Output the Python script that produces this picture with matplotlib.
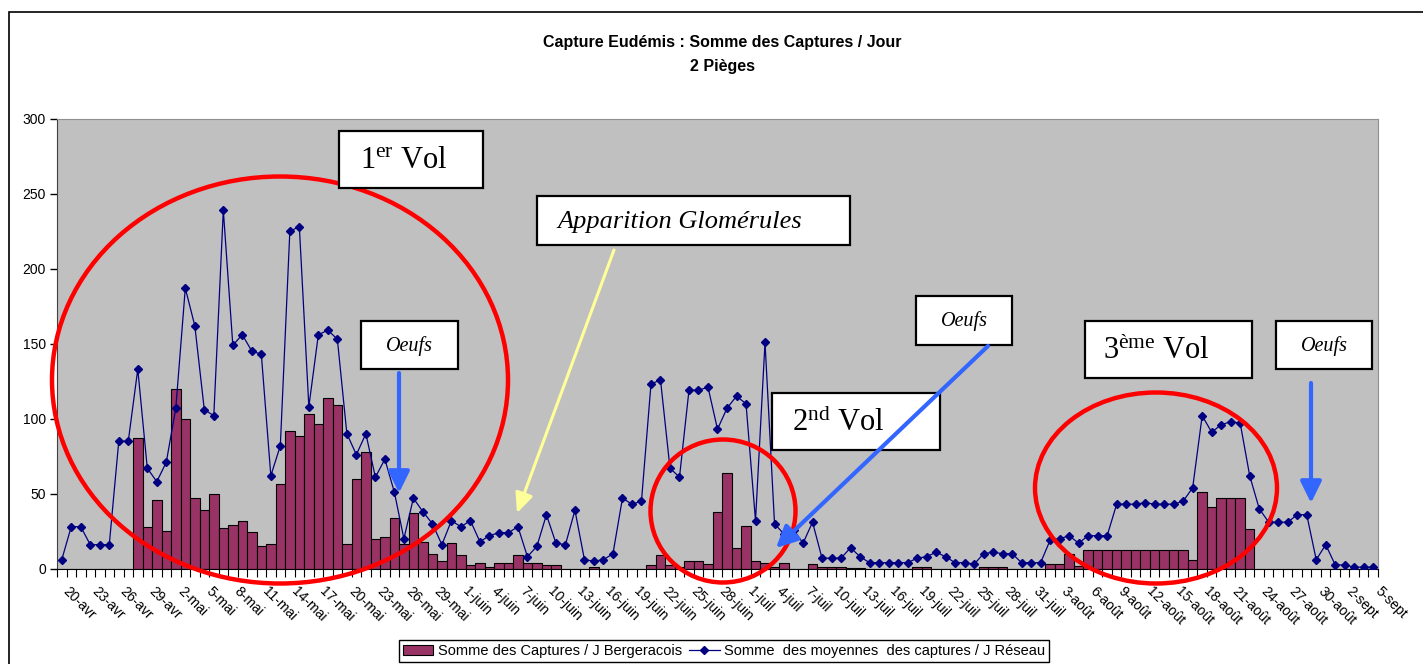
import matplotlib
matplotlib.use("Agg")
import matplotlib.pyplot as plt
from matplotlib.patches import Ellipse, Rectangle, FancyArrowPatch, Patch
from matplotlib.lines import Line2D
import numpy as np

plt.rcParams["font.family"] = ["Liberation Sans", "DejaVu Sans"]
plt.rcParams["mathtext.fontset"] = "custom"
plt.rcParams["mathtext.rm"] = "Liberation Serif"
plt.rcParams["mathtext.it"] = "Liberation Serif:italic"

W, H = 1423, 664

# one category per day, 20-avr .. 5-sept (139 days)
tick_labels = [
    "20-avr", "23-avr", "26-avr", "29-avr", "2-mai", "5-mai", "8-mai", "11-mai",
    "14-mai", "17-mai", "20-mai", "23-mai", "26-mai", "29-mai", "1-juin", "4-juin",
    "7-juin", "10-juin", "13-juin", "16-juin", "19-juin", "22-juin", "25-juin",
    "28-juin", "1-juil", "4-juil", "7-juil", "10-juil", "13-juil", "16-juil",
    "19-juil", "22-juil", "25-juil", "28-juil", "31-juil", "3-août", "6-août",
    "9-août", "12-août", "15-août", "18-août", "21-août", "24-août", "27-août",
    "30-août", "2-sept", "5-sept",
]

# Somme des Captures / J Bergeracois (bars)
captures_bergeracois = [
    0, 0, 0, 0, 0, 0, 0, 0, 87, 28,
    46, 25, 120, 100, 47, 39, 50, 27, 29, 32,
    24.7, 15, 16.4, 56.5, 92, 88.5, 103, 96.5, 113.6, 109,
    16.4, 60, 78, 20, 21, 33.6, 16.4, 37.3, 17.6, 9.8,
    5.3, 17, 9, 2.5, 3.6, 1, 3.6, 3.6, 9, 3.6,
    3.6, 2.5, 2.5, 0, 0, 0, 1, 0, 0, 0,
    0, 0, 2.5, 9, 2.5, 1, 5.3, 5.3, 3, 38,
    64, 13.6, 28.3, 5.3, 3.6, 1, 3.6, 0, 0, 3,
    1.3, 1.3, 1.3, 0.5, 0.5, 0, 0, 0, 0, 0,
    1, 1, 0, 0, 0, 0, 0, 1, 1, 1,
    0, 0, 0, 0, 3, 3, 10, 2, 12.7, 12.7,
    12.7, 12.7, 12.7, 12.7, 12.7, 12.7, 12.7, 12.7, 12.7, 6,
    51, 41, 47, 47, 47, 26.7, 0, 0, 0, 0,
    0, 0, 0, 0, 0, 0, 0, 0, 0,
]

# Somme des moyennes des captures / J Réseau (line)
moyennes_reseau = [
    6, 28, 28, 16, 16, 16, 85, 85, 133, 67,
    58, 71, 107, 187, 162, 106, 102, 239, 149, 156,
    145, 143, 62, 82, 225, 228, 108, 156, 159, 153,
    90, 76, 90, 61, 73, 51, 20, 47, 38, 30,
    16, 32, 28, 32, 18, 22, 24, 24, 28, 8,
    15, 36, 17, 16, 39, 6, 5, 6, 10, 47,
    43, 45, 123, 126, 67, 61, 119, 119, 121, 93,
    107, 115, 110, 32, 151, 30, 23, 26, 17, 31,
    7, 7, 7, 14, 8, 4, 4, 4, 4, 4,
    7, 8, 11, 8, 4, 4, 3, 10, 11, 10,
    10, 4, 4, 4, 19, 20, 22, 17, 22, 22,
    22, 43, 43, 43, 44, 43, 43, 43, 45, 54,
    102, 91, 96, 98, 97, 62, 40, 31, 31, 31,
    36, 36, 6, 16, 2.5, 2.5, 1, 1, 1,
]

n = len(moyennes_reseau)
x = np.arange(n)


def fx(px):
    return px / W


def fy(py):
    return 1 - py / H


fig = plt.figure(figsize=(W / 100, H / 100), dpi=100)
ax = fig.add_axes([fx(57), fy(568.7), (1378 - 57) / W, (568.7 - 118.7) / H])
ax.set_facecolor("#C0C0C0")

ax.bar(x, captures_bergeracois, width=1.0, color="#993366", edgecolor="black",
       linewidth=0.8, zorder=2)
ax.plot(x, moyennes_reseau, color="#000080", linewidth=0.9, marker="D",
        markersize=4.5, zorder=3)

ax.set_xlim(-0.5, n - 0.5)
ax.set_ylim(0, 300)
ax.set_yticks(range(0, 301, 50))
ax.tick_params(axis="y", length=5, width=1, labelsize=10, pad=3)

# tick marks between days, labels every 3 days (nudged right like Excel)
ax.set_xticks(np.arange(-0.5, n, 1.0))
ax.set_xticklabels([])
ax.tick_params(axis="x", which="major", length=6, width=0.8)
ax.set_xticks(np.arange(0, n, 3) + 0.4, tick_labels, minor=True)
ax.tick_params(axis="x", which="minor", length=0, pad=15, labelsize=10)
for lab in ax.get_xticklabels(minor=True):
    lab.set_rotation(-45)
    lab.set_ha("left")
    lab.set_va("center")
    lab.set_rotation_mode("anchor")

for s in ("top", "right"):
    ax.spines[s].set_color("#909090")
    ax.spines[s].set_linewidth(0.8)
ax.spines["left"].set_color("#404040")
ax.spines["bottom"].set_color("black")

# chart area border
fig.add_artist(Rectangle((fx(9), fy(700)), 2, fy(12) - fy(700), transform=fig.transFigure,
                         fill=False, edgecolor="black", linewidth=1.2))

fig.text(fx(722), fy(42), "Capture Eudémis : Somme des Captures / Jour",
         ha="center", va="center", fontsize=11.5, fontweight="bold")
fig.text(fx(722), fy(66), "2 Pièges", ha="center", va="center",
         fontsize=11.5, fontweight="bold")

# red ellipses around flights
for cx, cy, w, h in [(280, 380, 456, 407), (723, 511, 145, 143), (1156, 488, 242, 191)]:
    ax.add_patch(Ellipse((fx(cx), fy(cy)), w / W, h / H, transform=fig.transFigure,
                         fill=False, edgecolor="#FF0000", linewidth=3.2, zorder=4,
                         clip_on=False))

# boxes
def box(x0, y0, x1, y1):
    ax.add_patch(Rectangle((fx(x0), fy(y1)), (x1 - x0) / W, (y1 - y0) / H,
                           transform=fig.transFigure, facecolor="white",
                           edgecolor="black", linewidth=1.6, zorder=5, clip_on=False))


box(339, 131, 483, 188)
fig.text(fx(360), fy(161), r"1$^{\mathrm{er}}$ Vol", family="Liberation Serif",
         fontsize=22, ha="left", va="center", zorder=6)
box(772, 393, 940, 450)
fig.text(fx(792), fy(423), r"2$^{\mathrm{nd}}$ Vol", family="Liberation Serif",
         fontsize=22, ha="left", va="center", zorder=6)
box(1085, 321, 1252, 378)
fig.text(fx(1103), fy(351), r"3$^{\mathrm{ème}}$ Vol", family="Liberation Serif",
         fontsize=22, ha="left", va="center", zorder=6)
box(537, 196, 850, 245)
fig.text(fx(557), fy(222), "Apparition Glomérules", family="Liberation Serif",
         style="italic", fontsize=19, ha="left", va="center", zorder=6)
for x0, y0, x1, y1 in [(361, 321, 458, 369), (916, 296, 1012, 345), (1276, 321, 1372, 369)]:
    box(x0, y0, x1, y1)
    fig.text(fx((x0 + x1) / 2), fy((y0 + y1) / 2 + 1), "Oeufs", family="Liberation Serif",
             style="italic", fontsize=14.5, ha="center", va="center", zorder=6)

# arrows
def arrow(p0, p1, color, lw, hl, hw):
    a = FancyArrowPatch((fx(p0[0]), fy(p0[1])), (fx(p1[0]), fy(p1[1])),
                        transform=fig.transFigure,
                        arrowstyle=f"-|>,head_length={hl},head_width={hw}",
                        mutation_scale=20, color=color, linewidth=lw,
                        shrinkA=0, shrinkB=0, zorder=7, clip_on=False)
    fig.add_artist(a)


arrow((399, 373), (399, 493), "#3366FF", 3.0, 0.65, 0.32)
arrow((988, 346), (776, 548), "#3366FF", 3.0, 0.65, 0.32)
arrow((1311, 383), (1311, 503), "#3366FF", 3.0, 0.65, 0.32)
arrow((614, 250), (517, 513), "#FFFF99", 2.2, 0.6, 0.27)

handles = [Patch(facecolor="#993366", edgecolor="black", linewidth=0.8),
           Line2D([], [], color="#000080", linewidth=0.9, marker="D", markersize=4.5)]
labels = ["Somme des Captures / J Bergeracois",
          "Somme  des moyennes  des captures / J Réseau"]
leg = fig.legend(handles, labels, loc="center", bbox_to_anchor=(fx(724), fy(651)),
                 ncol=2, fontsize=10.5, frameon=True, fancybox=False, edgecolor="black",
                 framealpha=1, borderpad=0.25, handlelength=2.1, handletextpad=0.3,
                 columnspacing=0.5)
leg.get_frame().set_linewidth(1.0)

fig.savefig("out.png", dpi=100)
